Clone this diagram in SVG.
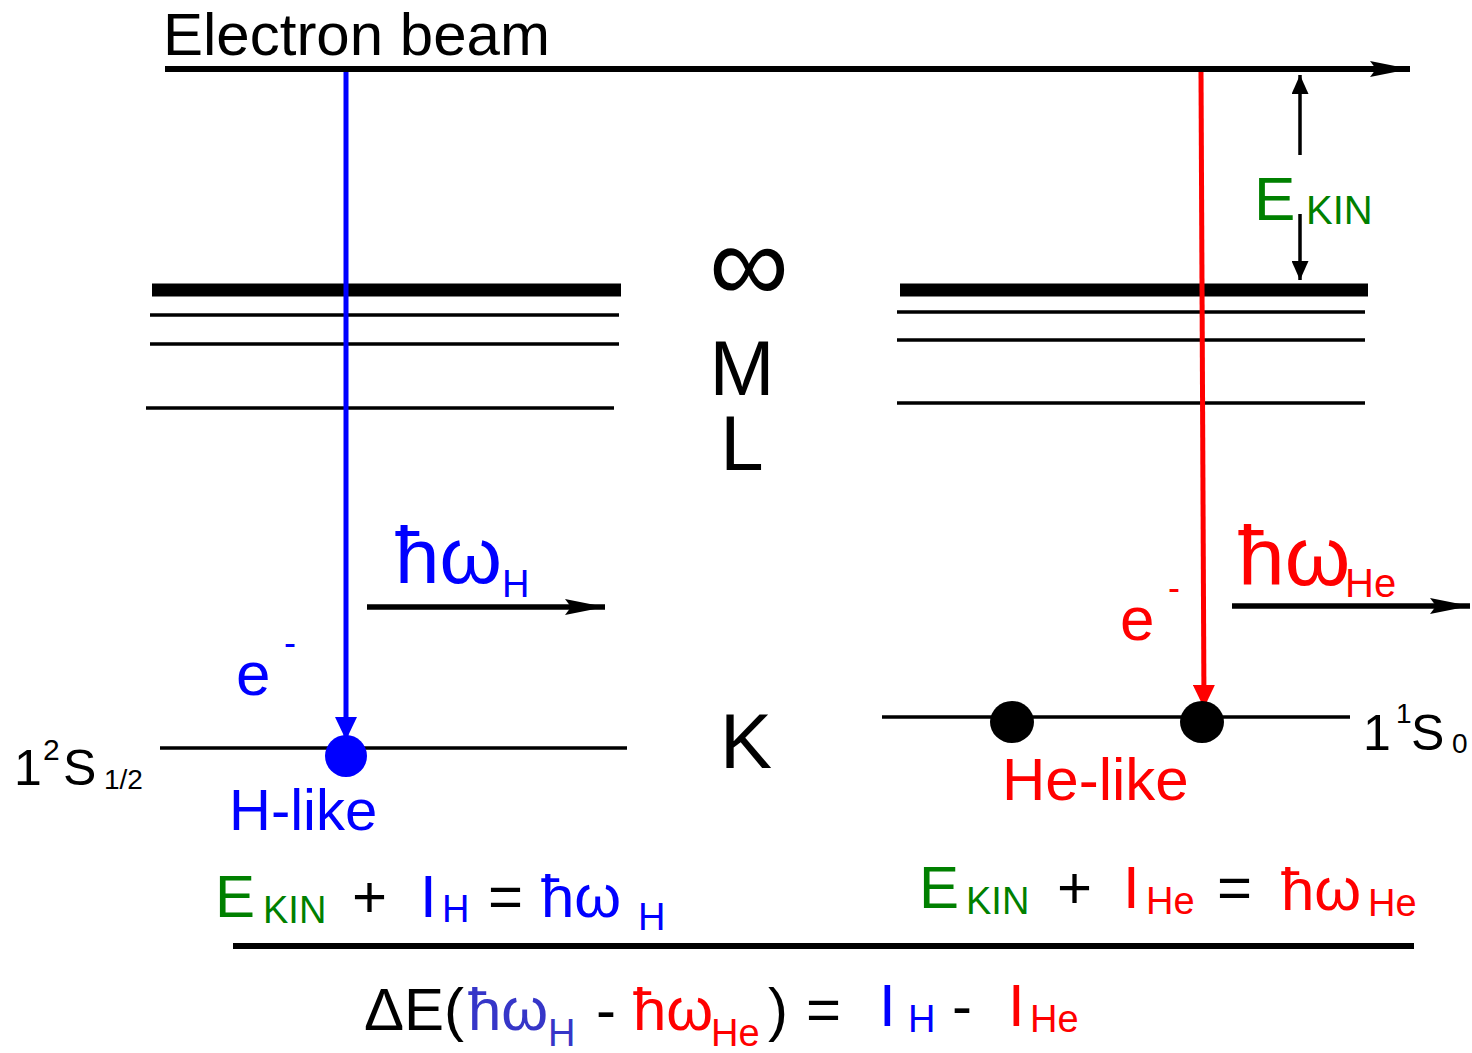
<svg xmlns="http://www.w3.org/2000/svg" width="1472" height="1053" viewBox="0 0 1472 1053">
<style>
text{font-family:"Liberation Sans",Arial,sans-serif;}
.k{fill:#000}.b{fill:#0000ff}.r{fill:#ff0000}.g{fill:#008000}.bb{fill:#3636c8}
.lv{stroke:#000;stroke-width:3.5;fill:none}
.lvt{stroke:#000;stroke-width:13;fill:none}
</style>
<defs>
<marker id="ak" markerUnits="userSpaceOnUse" markerWidth="42" markerHeight="16" refX="40" refY="8" orient="auto" viewBox="0 0 42 16"><path d="M0,0 L40,8 L0,16 L6,8 Z" fill="#000"/></marker>
<marker id="as" markerUnits="userSpaceOnUse" markerWidth="20" markerHeight="17" refX="19" refY="8.5" orient="auto" viewBox="0 0 20 17"><path d="M0,0 L19,8.5 L0,17 Z" fill="#000"/></marker>
<marker id="ab" markerUnits="userSpaceOnUse" markerWidth="24" markerHeight="22" refX="23" refY="11" orient="auto" viewBox="0 0 24 22"><path d="M0,0 L23,11 L0,22 Z" fill="#0000ff"/></marker>
<marker id="ar" markerUnits="userSpaceOnUse" markerWidth="24" markerHeight="22" refX="23" refY="11" orient="auto" viewBox="0 0 24 22"><path d="M0,0 L23,11 L0,22 Z" fill="#ff0000"/></marker>
</defs>

<g id="title"><text x="163" y="55" font-size="60" class="k">Electron beam</text></g>

<g id="levels-H">
<line class="lvt" x1="152" y1="290" x2="621" y2="290"/>
<line class="lv" x1="150" y1="315" x2="619" y2="315"/>
<line class="lv" x1="150" y1="344" x2="619" y2="344"/>
<line class="lv" x1="146" y1="408" x2="614" y2="408"/>
<line class="lv" x1="160" y1="748" x2="627" y2="748"/>
</g>
<g id="levels-He">
<line class="lvt" x1="900" y1="290" x2="1368" y2="290"/>
<line class="lv" x1="897" y1="312" x2="1365" y2="312"/>
<line class="lv" x1="897" y1="340" x2="1365" y2="340"/>
<line class="lv" x1="897" y1="403" x2="1365" y2="403"/>
<line class="lv" x1="882" y1="717" x2="1350" y2="717"/>
</g>

<g id="connectors">
<line x1="165" y1="69" x2="1410" y2="69" stroke="#000" stroke-width="6" marker-end="url(#ak)"/>
<line x1="346" y1="72" x2="346" y2="740" stroke="#0000ff" stroke-width="5" marker-end="url(#ab)"/>
<line x1="1201" y1="72" x2="1204" y2="708" stroke="#ff0000" stroke-width="5" marker-end="url(#ar)"/>
<line x1="1300" y1="155" x2="1300" y2="75" stroke="#000" stroke-width="3.5" marker-end="url(#as)"/>
<line x1="1300" y1="214" x2="1300" y2="280" stroke="#000" stroke-width="3.5" marker-end="url(#as)"/>
<line x1="367" y1="607" x2="605" y2="607" stroke="#000" stroke-width="5.5" marker-end="url(#ak)"/>
<line x1="1232" y1="606" x2="1470" y2="606" stroke="#000" stroke-width="5.5" marker-end="url(#ak)"/>
<line x1="233" y1="946" x2="1414" y2="946" stroke="#000" stroke-width="6"/>
</g>

<g id="electrons">
<ellipse cx="346" cy="756" rx="21" ry="21" fill="#0000ff"/>
<ellipse cx="1012" cy="722" rx="22" ry="21" fill="#000"/>
<ellipse cx="1202" cy="722" rx="22" ry="21" fill="#000"/>
</g>

<g id="shell-labels">
<text x="749" y="302" font-size="112" text-anchor="middle" class="k">∞</text>
<text x="742" y="395" font-size="78" text-anchor="middle" class="k">M</text>
<text x="742" y="470" font-size="78" text-anchor="middle" class="k">L</text>
<text x="746" y="768" font-size="78" text-anchor="middle" class="k">K</text>
</g>

<g id="ekin-label"><text class="g" font-size="62"><tspan x="1254" y="220">E</tspan><tspan x="1306" y="224" font-size="40">KIN</tspan></text></g>

<g id="photon-H"><text class="b" font-size="80"><tspan x="395" y="583">ħω</tspan><tspan x="502" y="597" font-size="38">H</tspan></text></g>
<g id="photon-He"><text class="r" font-size="84"><tspan x="1238" y="585">ħω</tspan><tspan x="1345" y="597" font-size="40">He</tspan></text></g>

<g id="electron-H"><text class="b" font-size="62"><tspan x="236" y="695">e</tspan><tspan x="284" y="655" font-size="36">-</tspan></text></g>
<g id="electron-He"><text class="r" font-size="62"><tspan x="1120" y="640">e</tspan><tspan x="1168" y="600" font-size="36">-</tspan></text></g>

<g id="state-H"><text class="k" font-size="50"><tspan x="14" y="785">1</tspan><tspan x="43" y="760" font-size="30">2</tspan><tspan x="63" y="785">S</tspan><tspan x="104" y="789" font-size="28">1/2</tspan></text></g>
<g id="state-He"><text class="k" font-size="50"><tspan x="1363" y="750">1</tspan><tspan x="1396" y="723" font-size="28">1</tspan><tspan x="1411" y="750">S</tspan><tspan x="1452" y="753" font-size="28">0</tspan></text></g>

<g id="label-H"><text x="229" y="830" font-size="58" class="b">H-like</text></g>
<g id="label-He"><text x="1002" y="800" font-size="60" class="r">He-like</text></g>

<g id="eq-H"><text font-size="60">
<tspan x="215" y="917" class="g">E</tspan><tspan x="263" y="923" font-size="38" class="g">KIN</tspan>
<tspan x="352" y="917" class="k">+</tspan>
<tspan x="420" y="917" class="b">I</tspan><tspan x="442" y="922" font-size="38" class="b">H</tspan>
<tspan x="488" y="917" class="k">=</tspan>
<tspan x="541" y="917" class="b">ħω</tspan><tspan x="638" y="930" font-size="38" class="b">H</tspan>
</text></g>

<g id="eq-He"><text font-size="60">
<tspan x="919" y="908" class="g">E</tspan><tspan x="966" y="914" font-size="38" class="g">KIN</tspan>
<tspan x="1057" y="908" class="k">+</tspan>
<tspan x="1123" y="908" class="r">I</tspan><tspan x="1146" y="914" font-size="38" class="r">He</tspan>
<tspan x="1217" y="908" class="k">=</tspan>
<tspan x="1281" y="910" class="r">ħω</tspan><tspan x="1368" y="916" font-size="38" class="r">He</tspan>
</text></g>

<g id="eq-diff"><text font-size="60">
<tspan x="364" y="1030" class="k">ΔE(</tspan>
<tspan x="468" y="1030" class="bb">ħω</tspan><tspan x="548" y="1046" font-size="38" class="bb">H</tspan>
<tspan x="596" y="1030" class="k">-</tspan>
<tspan x="633" y="1030" class="r">ħω</tspan><tspan x="711" y="1046" font-size="38" class="r">He</tspan>
<tspan x="768" y="1030" class="k">)</tspan>
<tspan x="806" y="1030" class="k">=</tspan>
<tspan x="879" y="1026" class="b">I</tspan><tspan x="908" y="1032" font-size="38" class="b">H</tspan>
<tspan x="952" y="1026" class="k">-</tspan>
<tspan x="1008" y="1026" class="r">I</tspan><tspan x="1030" y="1032" font-size="38" class="r">He</tspan>
</text></g>
</svg>
